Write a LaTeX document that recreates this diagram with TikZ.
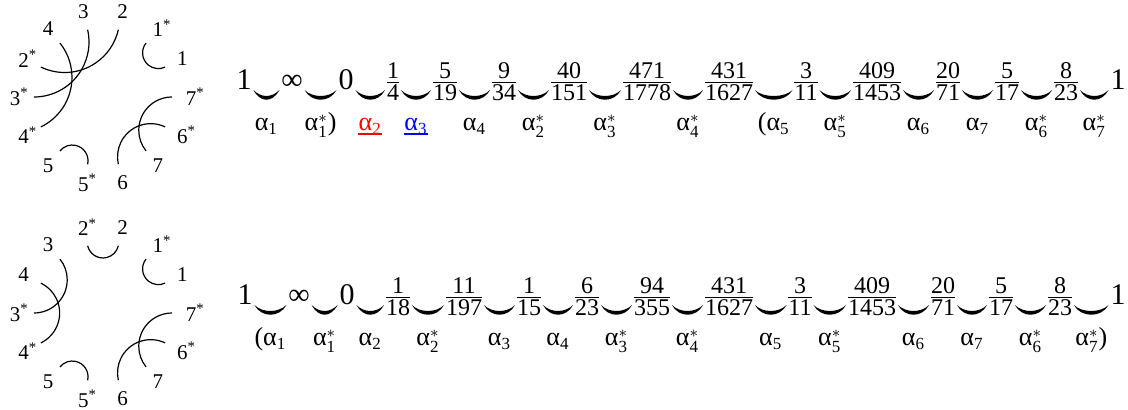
\documentclass[tikz,border=0pt]{standalone}
\usepackage{amsmath}
\usepackage{fontspec}
\setmainfont{Liberation Serif}
\usetikzlibrary{calc}
\DeclareMathSizes{15}{15}{12}{9}
\DeclareMathSizes{13}{13}{8.5}{6.5}
\newcommand{\infy}{\text{∞}}
\newcommand{\fr}[2]{\frac{\text{#1}}{\text{#2}}}
\newcommand{\alp}[1]{$\text{α}_{\text{#1}}$}
\newcommand{\alps}[1]{$\text{α}^{*}_{\text{#1}}$}
\newcommand{\cstar}[1]{#1\rlap{\textsuperscript{*}}}
\newcommand{\lpar}[1]{(#1}

\tikzset{
  num/.style={anchor=base, inner sep=0pt, font=\fontsize{15}{18}\selectfont},
  lab/.style={anchor=base, inner sep=0pt, font=\fontsize{13}{15}\selectfont},
  endpt/.style={inner sep=0pt, font=\fontsize{10.5}{12}\selectfont},
  chord/.style={line width=0.6pt},
  uline/.style={line width=0.9pt},
  smile/.style={to path={.. controls +(7,-13) and +(-7,-13) .. (\tikztotarget)
      .. controls +(-8,-8) and +(8,-8) .. (\tikztostart)}}
}

\begin{document}
\begin{tikzpicture}[x=0.5pt, y=0.5pt]
\useasboundingbox (0,0) rectangle (1128,-410);
\nulldelimiterspace=0pt

% upper disc
\begin{scope}[shift={(103,-97)}]
  \foreach \lab [count=\k from 0] in {2,3,4,\cstar{2},\cstar{3},\cstar{4},5,\cstar{5},6,7,\cstar{6},\cstar{7},1,\cstar{1}} {
    \node[endpt] (ua\k) at ({77.143+25.714*\k}:88) {\lab};
    \coordinate (uc\k) at ({77.143+25.714*\k}:69);
  }
  \foreach \a/\b in {0/3,1/4,2/5,6/7,8/10,9/11,12/13} {
    \pgfmathsetmacro\h{12.857*(\b-\a)}
    \pgfmathsetmacro\m{77.143+12.857*(\a+\b)}
    \draw[chord] (uc\b) arc[start angle=\m+90+\h, end angle=\m+270-\h, radius={69*tan(\h)}];
  }
\end{scope}

% lower disc
\begin{scope}[shift={(103,-313)}]
  \foreach \lab [count=\k from 0] in {2,\cstar{2},3,4,\cstar{3},\cstar{4},5,\cstar{5},6,7,\cstar{6},\cstar{7},1,\cstar{1}} {
    \node[endpt] (la\k) at ({77.143+25.714*\k}:88) {\lab};
    \coordinate (lc\k) at ({77.143+25.714*\k}:69);
  }
  \foreach \a/\b in {0/1,2/4,3/5,6/7,8/10,9/11,12/13} {
    \pgfmathsetmacro\h{12.857*(\b-\a)}
    \pgfmathsetmacro\m{77.143+12.857*(\a+\b)}
    \draw[chord] (lc\b) arc[start angle=\m+90+\h, end angle=\m+270-\h, radius={69*tan(\h)}];
  }
\end{scope}

% upper chain
\foreach \x/\v [count=\i] in {244/\text{1}, 292/\infy, 346/\text{0}, 393/\fr{1}{4}, 445/\fr{5}{19},
    504/\fr{9}{34}, 569/\fr{40}{151}, 647/\fr{471}{1778}, 729/\fr{431}{1627},
    806/\fr{3}{11}, 877/\fr{409}{1453}, 948/\fr{20}{71}, 1007/\fr{5}{17},
    1066/\fr{8}{23}, 1118/\text{1}}
  \node[num] (t\i) at (\x,-90) {$\v$};
\foreach \i in {1,...,14} {
  \pgfmathtruncatemacro\j{\i+1}
  \fill ([xshift=0.75pt]t\i.base east) to[smile] ([xshift=-0.75pt]t\j.base west);
}
\foreach \l/\c [count=\i] in {\alp{1}/black, \alps{1})/black, \alp{2}/red, \alp{3}/blue, \alp{4}/black,
    \alps{2}/black, \alps{3}/black, \alps{4}/black, \lpar{\alp{5}}/black, \alps{5}/black,
    \alp{6}/black, \alp{7}/black, \alps{6}/black, \alps{7}/black} {
  \pgfmathtruncatemacro\j{\i+1}
  \node[lab, text=\c] (tl\i) at ($(t\i.base east)!0.5!(t\j.base west)+(0,-41)$) {\l};
}
\draw[uline, red] ([yshift=-1.5pt]tl3.base west) -- ([yshift=-1.5pt]tl3.base east);
\draw[uline, blue] ([yshift=-1.5pt]tl4.base west) -- ([yshift=-1.5pt]tl4.base east);

% lower chain
\foreach \x/\v [count=\i] in {245/\text{1}, 299/\infy, 347/\text{0}, 398/\fr{1}{18}, 464/\fr{11}{197},
    529/\fr{1}{15}, 587/\fr{6}{23}, 652/\fr{94}{355}, 729/\fr{431}{1627},
    800/\fr{3}{11}, 872/\fr{409}{1453}, 943/\fr{20}{71}, 1001/\fr{5}{17},
    1060/\fr{8}{23}, 1118/\text{1}}
  \node[num] (b\i) at (\x,-305) {$\v$};
\foreach \i in {1,...,14} {
  \pgfmathtruncatemacro\j{\i+1}
  \fill ([xshift=0.75pt]b\i.base east) to[smile] ([xshift=-0.75pt]b\j.base west);
}
\foreach \l [count=\i] in {\lpar{\alp{1}}, \alps{1}, \alp{2}, \alps{2}, \alp{3}, \alp{4},
    \alps{3}, \alps{4}, \alp{5}, \alps{5}, \alp{6}, \alp{7}, \alps{6}, \alps{7})} {
  \pgfmathtruncatemacro\j{\i+1}
  \node[lab] (bl\i) at ($(b\i.base east)!0.5!(b\j.base west)+(0,-41)$) {\l};
}
\end{tikzpicture}
\end{document}
